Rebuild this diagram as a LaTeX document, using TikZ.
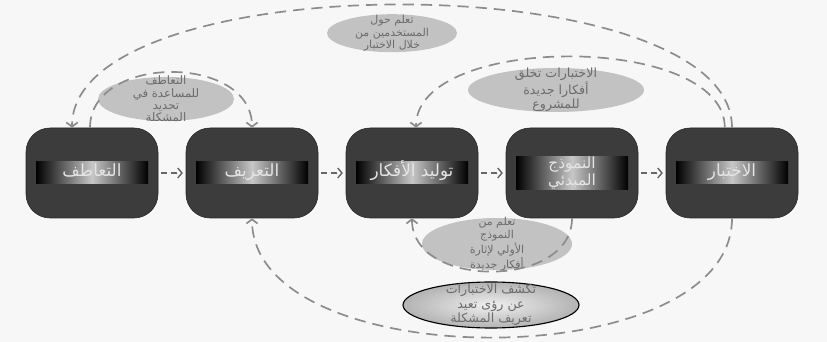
\documentclass[tikz,border=0pt]{standalone}
\usepackage{fontspec}
\newfontfamily\arabicfont[Script=Arabic]{DejaVu Sans}
\TeXXeTstate=1
\usepackage{tikz}
\usetikzlibrary{arrows.meta, positioning, shapes.geometric}

\definecolor{boxgray}{HTML}{3C3C3C}
\definecolor{bubgray}{HTML}{C2C2C2}
\definecolor{dashgray}{HTML}{8C8C8C}

\begin{document}
\begin{tikzpicture}[
  stage/.style={rectangle, rounded corners=0.6cm, draw=black!85, fill=boxgray, minimum width=3.3cm, minimum height=2.25cm},
  glow/.style={rectangle, left color=black, right color=black, middle color=black!22, minimum width=2.8cm, minimum height=0.55cm, inner sep=0pt, text height=8pt, text depth=3pt, text=white!90!black, font=\arabicfont\fontsize{12}{12}\selectfont, align=center},
  bubble/.style={ellipse, fill=bubgray, inner sep=0pt},
  bubtext/.style={text=black!58, align=center},
  loopback/.style={dashgray, line width=1.2pt, dash pattern=on 8pt off 5pt, -{Straight Barb[length=3pt,width=8pt]}},
  flow/.style={black!60, line width=1pt, dash pattern=on 4pt off 3pt, -{Straight Barb[length=3pt,width=7pt]}, shorten <=2pt, shorten >=2pt}
]
  \fill[black!3] (0,0) rectangle (20.675,8.55);
  \useasboundingbox (0,0) rectangle (20.675,8.55);

  % bubbles
  \node[bubble, minimum width=3.25cm, minimum height=0.95cm,
        label={[bubtext, font=\arabicfont\fontsize{7.8}{8.9}\selectfont, name=users-t]center:\beginR تعلم حول\endR\\\beginR المستخدمين من\endR\\\beginR خلال الاختبار\endR}] (users) at (9.8,7.72) {};
  \node[bubble, minimum width=3.4cm, minimum height=1.1cm,
        label={[bubtext, font=\arabicfont\fontsize{8.3}{8.8}\selectfont, name=empd-t]center:\beginR التعاطف\endR\\\beginR للمساعدة في\endR\\\beginR تحديد\endR\\\beginR المشكلة\endR}] (empd) at (4.15,6.075) {};
  \node[bubble, minimum width=4.4cm, minimum height=1.1cm,
        label={[bubtext, font=\arabicfont\fontsize{9}{10}\selectfont, name=newideas-t]center:\beginR الاختبارات تخلق\endR\\\beginR أفكارا جديدة\endR\\\beginR للمشروع\endR}] (newideas) at (13.9,6.3) {};
  \node[bubble, minimum width=3.75cm, minimum height=1.3cm,
        label={[bubtext, font=\arabicfont\fontsize{7.8}{9.3}\selectfont, name=protolearn-t]center:\beginR تعلم من\endR\\\beginR النموذج\endR\\\beginR الأولي لإثارة\endR\\\beginR أفكار جديدة\endR}] (protolearn) at (12.425,2.45) {};
  \node[bubble, draw=black, thick, inner color=black!6, outer color=black!30, minimum width=4.4cm, minimum height=1.15cm,
        label={[bubtext, font=\arabicfont\fontsize{9}{10.3}\selectfont, name=insight-t]center:\beginR تكشف الاختبارات\endR\\\beginR عن رؤى تعيد\endR\\\beginR تعريف المشكلة\endR}] (insight) at (12.275,0.925) {};

  % stages
  \node[stage] (emp) at (2.3,4.225) {};
  \node[stage] (def) at (6.3,4.225) {};
  \node[stage] (ideate) at (10.3,4.225) {};
  \node[stage] (proto) at (14.3,4.225) {};
  \node[stage] (test) at (18.3,4.225) {};

  \node[glow] (emp-l) at (emp) {\beginR التعاطف\endR};
  \node[glow] (def-l) at (def) {\beginR التعريف\endR};
  \node[glow] (ideate-l) at (ideate) {\beginR توليد الأفكار\endR};
  \node[glow, minimum height=0.8cm, text height=, text depth=, font=\arabicfont\fontsize{11}{11}\selectfont] (proto-l) at (proto) {\beginR النموذج\endR\\\beginR المبدئي\endR};
  \node[glow] (test-l) at (test) {\beginR الاختبار\endR};

  \draw[flow] (emp.east) -- (def.west);
  \draw[flow] (def.east) -- (ideate.west);
  \draw[flow] (ideate.east) -- (proto.west);
  \draw[flow] (proto.east) -- (test.west);

  % feedback loops
  \draw[loopback] ([xshift=-0.05cm]emp.north) .. controls +(0,1.85) and +(0,1.85) .. (def.north);
  \draw[loopback] (test.north) .. controls +(0,4.1) and +(0,4.1) .. ([xshift=-0.5cm]emp.north);
  \draw[loopback] ([xshift=-0.18cm]test.north) .. controls +(0,2.37) and +(0,2.37) .. ([xshift=0.1cm]ideate.north);
  \draw[loopback] (proto.south) .. controls +(0,-1.77) and +(0,-1.77) .. (ideate.south);
  \draw[loopback] (test.south) .. controls +(0,-3.97) and +(0,-3.97) .. (def.south);
\end{tikzpicture}
\end{document}
